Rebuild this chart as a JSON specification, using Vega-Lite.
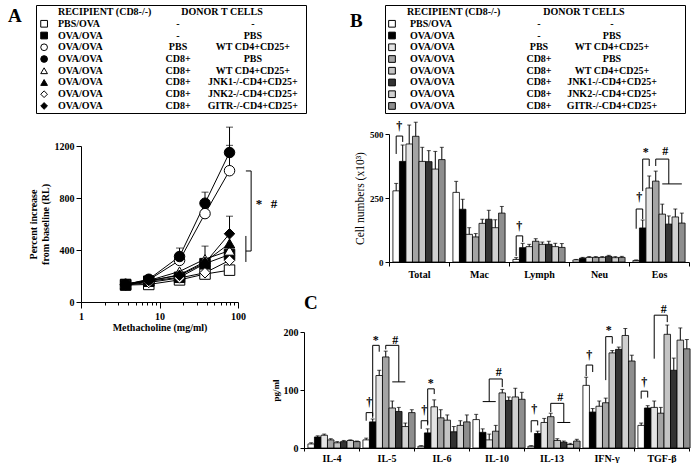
{
"$schema": "https://vega.github.io/schema/vega-lite/v6.json",
"background": "white",
"padding": {"left": 7, "top": 4, "right": 0, "bottom": 0},
"autosize": {"type": "pad"},
"config": {
 "view": {"stroke": null},
 "axis": {"labelFont": "Liberation Serif", "labelFontSize": 10, "labelFontWeight": "bold", "labelColor": "black", "titleFont": "Liberation Serif", "titleFontSize": 10, "titleFontWeight": "bold", "titleColor": "black", "domainColor": "black", "domainWidth": 1, "tickColor": "black", "tickWidth": 1, "grid": false, "labelFlush": false, "labelOverlap": false},
 "title": {"font": "Liberation Serif", "fontSize": 19, "fontWeight": "bold", "color": "black", "anchor": "start", "frame": "group", "offset": 0},
 "text": {"font": "Liberation Serif", "fontWeight": "bold", "color": "black"}
},
"datasets": {
 "groups": [
  {"g": "G1", "rec": "PBS/OVA", "cd8": "-", "donor": "-"},
  {"g": "G2", "rec": "OVA/OVA", "cd8": "-", "donor": "PBS"},
  {"g": "G3", "rec": "OVA/OVA", "cd8": "PBS", "donor": "WT CD4+CD25+"},
  {"g": "G4", "rec": "OVA/OVA", "cd8": "CD8+", "donor": "PBS"},
  {"g": "G5", "rec": "OVA/OVA", "cd8": "CD8+", "donor": "WT CD4+CD25+"},
  {"g": "G6", "rec": "OVA/OVA", "cd8": "CD8+", "donor": "JNK1-/-CD4+CD25+"},
  {"g": "G7", "rec": "OVA/OVA", "cd8": "CD8+", "donor": "JNK2-/-CD4+CD25+"},
  {"g": "G8", "rec": "OVA/OVA", "cd8": "CD8+", "donor": "GITR-/-CD4+CD25+"}
 ],
 "hdr": [{"rec": "RECIPIENT (CD8-/-)", "donor": "DONOR T CELLS"}],
 "ahr": [
  {"g": "G1", "dose": 3.7, "v": 130}, {"g": "G1", "dose": 7.3, "v": 135}, {"g": "G1", "dose": 18, "v": 170}, {"g": "G1", "dose": 38, "v": 215}, {"g": "G1", "dose": 78, "v": 245},
  {"g": "G2", "dose": 3.7, "v": 135}, {"g": "G2", "dose": 7.3, "v": 160}, {"g": "G2", "dose": 18, "v": 190}, {"g": "G2", "dose": 38, "v": 295}, {"g": "G2", "dose": 78, "v": 365},
  {"g": "G3", "dose": 3.7, "v": 135}, {"g": "G3", "dose": 7.3, "v": 170}, {"g": "G3", "dose": 18, "v": 320}, {"g": "G3", "dose": 38, "v": 680}, {"g": "G3", "dose": 78, "v": 1010, "e": 1205},
  {"g": "G5", "dose": 3.7, "v": 140}, {"g": "G5", "dose": 7.3, "v": 165}, {"g": "G5", "dose": 18, "v": 235}, {"g": "G5", "dose": 38, "v": 330, "e": 430}, {"g": "G5", "dose": 78, "v": 395},
  {"g": "G6", "dose": 3.7, "v": 130}, {"g": "G6", "dose": 7.3, "v": 160}, {"g": "G6", "dose": 18, "v": 210}, {"g": "G6", "dose": 38, "v": 310}, {"g": "G6", "dose": 78, "v": 450},
  {"g": "G7", "dose": 3.7, "v": 130}, {"g": "G7", "dose": 7.3, "v": 150}, {"g": "G7", "dose": 18, "v": 185}, {"g": "G7", "dose": 38, "v": 225}, {"g": "G7", "dose": 78, "v": 320},
  {"g": "G8", "dose": 3.7, "v": 135}, {"g": "G8", "dose": 7.3, "v": 165}, {"g": "G8", "dose": 18, "v": 205}, {"g": "G8", "dose": 38, "v": 300}, {"g": "G8", "dose": 78, "v": 525, "e": 660},
  {"g": "G4", "dose": 3.7, "v": 135}, {"g": "G4", "dose": 7.3, "v": 175}, {"g": "G4", "dose": 18, "v": 350, "e": 415}, {"g": "G4", "dose": 38, "v": 760, "e": 845}, {"g": "G4", "dose": 78, "v": 1150, "e": 1345}
 ],
 "abr": [
  {"id": "b1", "o": 1, "dose": 126, "y": 1008}, {"id": "b1", "o": 2, "dose": 147, "y": 1008}, {"id": "b1", "o": 3, "dose": 147, "y": 392}, {"id": "b1", "o": 4, "dose": 126, "y": 392},
  {"id": "b2", "o": 1, "dose": 126, "y": 508}, {"id": "b2", "o": 2, "dose": 126, "y": 308}
 ],
 "atx": [{"dose": 185, "y": 754, "s": "*"}, {"dose": 287, "y": 754, "s": "#"}],
 "cells": [
  {"cat": "Total", "g": "G1", "v": 278, "e": 307}, {"cat": "Total", "g": "G2", "v": 393, "e": 457}, {"cat": "Total", "g": "G3", "v": 461, "e": 535}, {"cat": "Total", "g": "G4", "v": 491, "e": 546}, {"cat": "Total", "g": "G5", "v": 393, "e": 448}, {"cat": "Total", "g": "G6", "v": 392, "e": 435}, {"cat": "Total", "g": "G7", "v": 363, "e": 432}, {"cat": "Total", "g": "G8", "v": 400, "e": 448},
  {"cat": "Mac", "g": "G1", "v": 272, "e": 315}, {"cat": "Mac", "g": "G2", "v": 206, "e": 245}, {"cat": "Mac", "g": "G3", "v": 108, "e": 134}, {"cat": "Mac", "g": "G4", "v": 98, "e": 111}, {"cat": "Mac", "g": "G5", "v": 151, "e": 167}, {"cat": "Mac", "g": "G6", "v": 167, "e": 202}, {"cat": "Mac", "g": "G7", "v": 134, "e": 165}, {"cat": "Mac", "g": "G8", "v": 191, "e": 217},
  {"cat": "Lymph", "g": "G1", "v": 10, "e": 17}, {"cat": "Lymph", "g": "G2", "v": 56, "e": 73}, {"cat": "Lymph", "g": "G3", "v": 60, "e": 69}, {"cat": "Lymph", "g": "G4", "v": 81, "e": 91}, {"cat": "Lymph", "g": "G5", "v": 69, "e": 78}, {"cat": "Lymph", "g": "G6", "v": 69, "e": 81}, {"cat": "Lymph", "g": "G7", "v": 60, "e": 73}, {"cat": "Lymph", "g": "G8", "v": 57, "e": 72},
  {"cat": "Neu", "g": "G1", "v": 8, "e": 10}, {"cat": "Neu", "g": "G2", "v": 15, "e": 18}, {"cat": "Neu", "g": "G3", "v": 18, "e": 21}, {"cat": "Neu", "g": "G4", "v": 18, "e": 21}, {"cat": "Neu", "g": "G5", "v": 18, "e": 21}, {"cat": "Neu", "g": "G6", "v": 22, "e": 26}, {"cat": "Neu", "g": "G7", "v": 17, "e": 21}, {"cat": "Neu", "g": "G8", "v": 18, "e": 22},
  {"cat": "Eos", "g": "G1", "v": 6, "e": 8}, {"cat": "Eos", "g": "G2", "v": 133, "e": 164}, {"cat": "Eos", "g": "G3", "v": 289, "e": 336}, {"cat": "Eos", "g": "G4", "v": 316, "e": 355}, {"cat": "Eos", "g": "G5", "v": 187, "e": 226}, {"cat": "Eos", "g": "G6", "v": 148, "e": 180}, {"cat": "Eos", "g": "G7", "v": 176, "e": 207}, {"cat": "Eos", "g": "G8", "v": 152, "e": 191}
 ],
 "bbr": [
  {"id": "b1", "o": 1, "cat": "Total", "g": "G1", "y": 422}, {"id": "b1", "o": 2, "cat": "Total", "g": "G1", "y": 492}, {"id": "b1", "o": 3, "cat": "Total", "g": "G2", "y": 492}, {"id": "b1", "o": 4, "cat": "Total", "g": "G2", "y": 469},
  {"id": "b2", "o": 1, "cat": "Lymph", "g": "G1", "y": 23}, {"id": "b2", "o": 2, "cat": "Lymph", "g": "G1", "y": 102}, {"id": "b2", "o": 3, "cat": "Lymph", "g": "G2", "y": 102}, {"id": "b2", "o": 4, "cat": "Lymph", "g": "G2", "y": 78},
  {"id": "b3", "o": 1, "cat": "Eos", "g": "G1", "y": 130}, {"id": "b3", "o": 2, "cat": "Eos", "g": "G1", "y": 207}, {"id": "b3", "o": 3, "cat": "Eos", "g": "G2", "y": 207}, {"id": "b3", "o": 4, "cat": "Eos", "g": "G2", "y": 168},
  {"id": "b4", "o": 1, "cat": "Eos", "g": "G2", "y": 277}, {"id": "b4", "o": 2, "cat": "Eos", "g": "G2", "y": 402}, {"id": "b4", "o": 3, "cat": "Eos", "g": "G3", "y": 402}, {"id": "b4", "o": 4, "cat": "Eos", "g": "G3", "y": 375},
  {"id": "b5", "o": 1, "cat": "Eos", "g": "G4", "y": 375}, {"id": "b5", "o": 2, "cat": "Eos", "g": "G4", "y": 402}, {"id": "b5", "o": 3, "cat": "Eos", "g": "G6", "y": 402}, {"id": "b5", "o": 4, "cat": "Eos", "g": "G6", "y": 305},
  {"id": "b6", "o": 1, "cat": "Eos", "g": "G5", "y": 305}, {"id": "b6", "o": 2, "cat": "Eos", "g": "G8", "y": 305}
 ],
 "btx": [
  {"cat": "Total", "g": "G1", "y": 531, "s": "†"}, {"cat": "Lymph", "g": "G1", "y": 141, "s": "†"}, {"cat": "Eos", "g": "G1", "y": 254, "s": "†"}, {"cat": "Eos", "g": "G2", "y": 430, "s": "*"}, {"cat": "Eos", "g": "G5", "y": 432, "s": "#"}
 ],
 "cyto": [
  {"cat": "IL-4", "g": "G1", "v": 7, "e": 9}, {"cat": "IL-4", "g": "G2", "v": 19, "e": 21}, {"cat": "IL-4", "g": "G3", "v": 22, "e": 24}, {"cat": "IL-4", "g": "G4", "v": 14, "e": 16}, {"cat": "IL-4", "g": "G5", "v": 9, "e": 11}, {"cat": "IL-4", "g": "G6", "v": 11, "e": 13}, {"cat": "IL-4", "g": "G7", "v": 13, "e": 14}, {"cat": "IL-4", "g": "G8", "v": 11, "e": 12},
  {"cat": "IL-5", "g": "G1", "v": 14, "e": 17}, {"cat": "IL-5", "g": "G2", "v": 45, "e": 50}, {"cat": "IL-5", "g": "G3", "v": 125, "e": 134}, {"cat": "IL-5", "g": "G4", "v": 157, "e": 167}, {"cat": "IL-5", "g": "G5", "v": 69, "e": 81}, {"cat": "IL-5", "g": "G6", "v": 63, "e": 70}, {"cat": "IL-5", "g": "G7", "v": 37, "e": 43}, {"cat": "IL-5", "g": "G8", "v": 61, "e": 66},
  {"cat": "IL-6", "g": "G1", "v": 3, "e": 4}, {"cat": "IL-6", "g": "G2", "v": 26, "e": 33}, {"cat": "IL-6", "g": "G3", "v": 71, "e": 83}, {"cat": "IL-6", "g": "G4", "v": 52, "e": 66}, {"cat": "IL-6", "g": "G5", "v": 48, "e": 57}, {"cat": "IL-6", "g": "G6", "v": 28, "e": 37}, {"cat": "IL-6", "g": "G7", "v": 39, "e": 47}, {"cat": "IL-6", "g": "G8", "v": 45, "e": 57},
  {"cat": "IL-10", "g": "G1", "v": 49, "e": 58}, {"cat": "IL-10", "g": "G2", "v": 27, "e": 33}, {"cat": "IL-10", "g": "G3", "v": 14, "e": 24}, {"cat": "IL-10", "g": "G4", "v": 29, "e": 39}, {"cat": "IL-10", "g": "G5", "v": 95, "e": 101}, {"cat": "IL-10", "g": "G6", "v": 82, "e": 88}, {"cat": "IL-10", "g": "G7", "v": 88, "e": 103}, {"cat": "IL-10", "g": "G8", "v": 84, "e": 96},
  {"cat": "IL-13", "g": "G1", "v": 3, "e": 4}, {"cat": "IL-13", "g": "G2", "v": 25, "e": 29}, {"cat": "IL-13", "g": "G3", "v": 44, "e": 51}, {"cat": "IL-13", "g": "G4", "v": 54, "e": 60}, {"cat": "IL-13", "g": "G5", "v": 13, "e": 16}, {"cat": "IL-13", "g": "G6", "v": 10, "e": 12}, {"cat": "IL-13", "g": "G7", "v": 6, "e": 8}, {"cat": "IL-13", "g": "G8", "v": 12, "e": 15},
  {"cat": "IFN-γ", "g": "G1", "v": 108, "e": 122}, {"cat": "IFN-γ", "g": "G2", "v": 62, "e": 68}, {"cat": "IFN-γ", "g": "G3", "v": 72, "e": 81}, {"cat": "IFN-γ", "g": "G4", "v": 78, "e": 86}, {"cat": "IFN-γ", "g": "G5", "v": 164, "e": 168}, {"cat": "IFN-γ", "g": "G6", "v": 170, "e": 174}, {"cat": "IFN-γ", "g": "G7", "v": 194, "e": 206}, {"cat": "IFN-γ", "g": "G8", "v": 150, "e": 160},
  {"cat": "TGF-β", "g": "G1", "v": 39, "e": 43}, {"cat": "TGF-β", "g": "G2", "v": 69, "e": 73}, {"cat": "TGF-β", "g": "G3", "v": 70, "e": 81}, {"cat": "TGF-β", "g": "G4", "v": 60, "e": 70}, {"cat": "TGF-β", "g": "G5", "v": 196, "e": 212}, {"cat": "TGF-β", "g": "G6", "v": 134, "e": 155}, {"cat": "TGF-β", "g": "G7", "v": 186, "e": 207}, {"cat": "TGF-β", "g": "G8", "v": 171, "e": 187}
 ],
 "cbr": [
  {"id": "c1", "o": 1, "cat": "IL-5", "g": "G1", "y": 47}, {"id": "c1", "o": 2, "cat": "IL-5", "g": "G1", "y": 61}, {"id": "c1", "o": 3, "cat": "IL-5", "g": "G2", "y": 61}, {"id": "c1", "o": 4, "cat": "IL-5", "g": "G2", "y": 52},
  {"id": "c2", "o": 1, "cat": "IL-5", "g": "G2", "y": 55}, {"id": "c2", "o": 2, "cat": "IL-5", "g": "G2", "y": 177}, {"id": "c2", "o": 3, "cat": "IL-5", "g": "G3", "y": 177}, {"id": "c2", "o": 4, "cat": "IL-5", "g": "G3", "y": 166},
  {"id": "c3", "o": 1, "cat": "IL-5", "g": "G4", "y": 170}, {"id": "c3", "o": 2, "cat": "IL-5", "g": "G4", "y": 177}, {"id": "c3", "o": 3, "cat": "IL-5", "g": "G6", "y": 177}, {"id": "c3", "o": 4, "cat": "IL-5", "g": "G6", "y": 114},
  {"id": "c4", "o": 1, "cat": "IL-5", "g": "G5", "y": 114}, {"id": "c4", "o": 2, "cat": "IL-5", "g": "G7", "y": 114},
  {"id": "c5", "o": 1, "cat": "IL-6", "g": "G1", "y": 33}, {"id": "c5", "o": 2, "cat": "IL-6", "g": "G1", "y": 47}, {"id": "c5", "o": 3, "cat": "IL-6", "g": "G2", "y": 47}, {"id": "c5", "o": 4, "cat": "IL-6", "g": "G2", "y": 39},
  {"id": "c6", "o": 1, "cat": "IL-6", "g": "G2", "y": 42}, {"id": "c6", "o": 2, "cat": "IL-6", "g": "G2", "y": 102}, {"id": "c6", "o": 3, "cat": "IL-6", "g": "G3", "y": 102}, {"id": "c6", "o": 4, "cat": "IL-6", "g": "G3", "y": 93},
  {"id": "c7", "o": 1, "cat": "IL-10", "g": "G2", "y": 80}, {"id": "c7", "o": 2, "cat": "IL-10", "g": "G4", "y": 80},
  {"id": "c8", "o": 1, "cat": "IL-10", "g": "G3", "y": 80}, {"id": "c8", "o": 2, "cat": "IL-10", "g": "G3", "y": 119}, {"id": "c8", "o": 3, "cat": "IL-10", "g": "G5", "y": 119}, {"id": "c8", "o": 4, "cat": "IL-10", "g": "G5", "y": 105},
  {"id": "c9", "o": 1, "cat": "IL-13", "g": "G1", "y": 27}, {"id": "c9", "o": 2, "cat": "IL-13", "g": "G1", "y": 47}, {"id": "c9", "o": 3, "cat": "IL-13", "g": "G2", "y": 47}, {"id": "c9", "o": 4, "cat": "IL-13", "g": "G2", "y": 39},
  {"id": "c10", "o": 1, "cat": "IL-13", "g": "G4", "y": 62}, {"id": "c10", "o": 2, "cat": "IL-13", "g": "G4", "y": 77}, {"id": "c10", "o": 3, "cat": "IL-13", "g": "G6", "y": 77}, {"id": "c10", "o": 4, "cat": "IL-13", "g": "G6", "y": 44},
  {"id": "c11", "o": 1, "cat": "IL-13", "g": "G5", "y": 44}, {"id": "c11", "o": 2, "cat": "IL-13", "g": "G7", "y": 44},
  {"id": "c12", "o": 1, "cat": "IFN-γ", "g": "G1", "y": 124}, {"id": "c12", "o": 2, "cat": "IFN-γ", "g": "G1", "y": 143}, {"id": "c12", "o": 3, "cat": "IFN-γ", "g": "G2", "y": 143}, {"id": "c12", "o": 4, "cat": "IFN-γ", "g": "G2", "y": 131},
  {"id": "c13", "o": 1, "cat": "IFN-γ", "g": "G4", "y": 117}, {"id": "c13", "o": 2, "cat": "IFN-γ", "g": "G4", "y": 192}, {"id": "c13", "o": 3, "cat": "IFN-γ", "g": "G5", "y": 192}, {"id": "c13", "o": 4, "cat": "IFN-γ", "g": "G5", "y": 180},
  {"id": "c14", "o": 1, "cat": "TGF-β", "g": "G1", "y": 85}, {"id": "c14", "o": 2, "cat": "TGF-β", "g": "G1", "y": 98}, {"id": "c14", "o": 3, "cat": "TGF-β", "g": "G2", "y": 98}, {"id": "c14", "o": 4, "cat": "TGF-β", "g": "G2", "y": 87},
  {"id": "c15", "o": 1, "cat": "TGF-β", "g": "G3", "y": 154}, {"id": "c15", "o": 2, "cat": "TGF-β", "g": "G3", "y": 229}, {"id": "c15", "o": 3, "cat": "TGF-β", "g": "G5", "y": 229}, {"id": "c15", "o": 4, "cat": "TGF-β", "g": "G5", "y": 217}
 ],
 "ctx": [
  {"cat": "IL-5", "g": "G1", "y": 79, "s": "†"}, {"cat": "IL-5", "g": "G2", "y": 187, "s": "*"}, {"cat": "IL-5", "g": "G5", "y": 187, "s": "#"},
  {"cat": "IL-6", "g": "G1", "y": 65, "s": "†"}, {"cat": "IL-6", "g": "G2", "y": 112, "s": "*"},
  {"cat": "IL-10", "g": "G4", "y": 131, "s": "#"},
  {"cat": "IL-13", "g": "G1", "y": 67, "s": "†"}, {"cat": "IL-13", "g": "G5", "y": 88, "s": "#"},
  {"cat": "IFN-γ", "g": "G1", "y": 160, "s": "†"}, {"cat": "IFN-γ", "g": "G4", "y": 203, "s": "*"},
  {"cat": "TGF-β", "g": "G1", "y": 114, "s": "†"}, {"cat": "TGF-β", "g": "G4", "y": 239, "s": "#"}
 ]
},
"spacing": -39,
"vconcat": [
 {"spacing": 42, "hconcat": [
  {"spacing": 12, "vconcat": [
   {
    "width": 270, "height": 108,
    "view": {"stroke": "black", "strokeWidth": 1},
    "title": {"text": "A", "baseline": "top", "dx": -28, "dy": 25},
    "layer": [
     {"data": {"name": "hdr"}, "mark": {"type": "text", "align": "left", "baseline": "middle", "fontSize": 10, "color": "black"},
      "encoding": {"x": {"datum": "rec", "type": "nominal", "bandPosition": 0.244, "scale": {"type": "band", "domain": ["rec", "cd8", "donor"], "paddingInner": 0, "paddingOuter": 0}, "axis": null},
       "y": {"datum": "hdr", "type": "nominal", "scale": {"type": "point", "domain": ["hdr", "G1", "G2", "G3", "G4", "G5", "G6", "G7", "G8"], "padding": 0.6}, "axis": null},
       "text": {"field": "rec"}}},
     {"data": {"name": "hdr"}, "mark": {"type": "text", "align": "center", "baseline": "middle", "fontSize": 10, "color": "black"},
      "encoding": {"x": {"datum": "donor", "type": "nominal", "bandPosition": 0.067, "axis": null},
       "y": {"datum": "hdr", "type": "nominal", "axis": null},
       "text": {"field": "donor"}}},
     {"data": {"name": "groups"}, "mark": {"type": "point", "filled": true, "stroke": "black", "strokeWidth": 1, "size": 45, "opacity": 1},
      "encoding": {"x": {"datum": "rec", "type": "nominal", "bandPosition": 0.09, "axis": null},
       "y": {"field": "g", "type": "nominal", "axis": null},
       "shape": {"field": "g", "type": "nominal", "scale": {"domain": ["G1", "G2", "G3", "G4", "G5", "G6", "G7", "G8"], "range": ["square", "square", "circle", "circle", "triangle-up", "triangle-up", "diamond", "diamond"]}, "legend": null},
       "fill": {"field": "g", "type": "nominal", "scale": {"domain": ["G1", "G2", "G3", "G4", "G5", "G6", "G7", "G8"], "range": ["white", "black", "white", "black", "white", "black", "white", "black"]}, "legend": null}}},
     {"data": {"name": "groups"}, "mark": {"type": "text", "align": "left", "baseline": "middle", "fontSize": 10, "color": "black"},
      "encoding": {"x": {"datum": "rec", "type": "nominal", "bandPosition": 0.244, "axis": null},
       "y": {"field": "g", "type": "nominal", "axis": null}, "text": {"field": "rec"}}},
     {"data": {"name": "groups"}, "mark": {"type": "text", "align": "center", "baseline": "middle", "fontSize": 10, "color": "black"},
      "encoding": {"x": {"datum": "cd8", "type": "nominal", "bandPosition": 0.578, "axis": null},
       "y": {"field": "g", "type": "nominal", "axis": null}, "text": {"field": "cd8"}}},
     {"data": {"name": "groups"}, "mark": {"type": "text", "align": "center", "baseline": "middle", "fontSize": 10, "color": "black"},
      "encoding": {"x": {"datum": "donor", "type": "nominal", "bandPosition": 0.41, "axis": null},
       "y": {"field": "g", "type": "nominal", "axis": null}, "text": {"field": "donor"}}}
    ]
   },
   {
    "width": 203, "height": 156,
    "encoding": {
     "x": {"field": "dose", "type": "quantitative", "scale": {"type": "log", "domain": [1, 100], "range": [45, 202], "nice": false},
      "axis": {"values": [1, 2, 3, 4, 5, 6, 7, 8, 9, 10, 20, 30, 40, 50, 60, 70, 80, 90, 100], "title": "Methacholine (mg/ml)", "labelExpr": "datum.value == 1 || datum.value == 10 || datum.value == 100 ? datum.label : ''", "tickSize": {"condition": {"test": "datum.value == 1 || datum.value == 10 || datum.value == 100", "value": 6}, "value": 3}, "labelPadding": 3, "titlePadding": 1}},
     "y": {"field": "v", "type": "quantitative", "scale": {"domain": [0, 1200], "nice": false},
      "axis": {"values": [0, 400, 800, 1200], "format": "d", "offset": -45, "title": ["Percent increase", "from baseline (RL)"], "titlePadding": 4, "tickSize": 5, "labelPadding": 2}}
    },
    "layer": [
     {"data": {"name": "ahr"}, "mark": {"type": "line", "color": "black", "strokeWidth": 1}, "encoding": {"detail": {"field": "g"}}},
     {"data": {"name": "ahr"}, "transform": [{"filter": "isValid(datum.e)"}], "mark": {"type": "rule", "color": "black", "strokeWidth": 1}, "encoding": {"y2": {"field": "e"}}},
     {"data": {"name": "ahr"}, "transform": [{"filter": "isValid(datum.e)"}], "mark": {"type": "tick", "orient": "horizontal", "size": 7, "thickness": 1, "color": "black"}, "encoding": {"y": {"field": "e", "type": "quantitative"}}},
     {"data": {"name": "ahr"}, "mark": {"type": "point", "filled": true, "stroke": "black", "strokeWidth": 1, "size": 110, "opacity": 1},
      "encoding": {
       "shape": {"field": "g", "type": "nominal", "scale": {"domain": ["G1", "G2", "G3", "G4", "G5", "G6", "G7", "G8"], "range": ["square", "square", "circle", "circle", "triangle-up", "triangle-up", "diamond", "diamond"]}, "legend": null},
       "fill": {"field": "g", "type": "nominal", "scale": {"domain": ["G1", "G2", "G3", "G4", "G5", "G6", "G7", "G8"], "range": ["white", "black", "white", "black", "white", "black", "white", "black"]}, "legend": null}}},
     {"data": {"name": "abr"}, "mark": {"type": "line", "color": "black", "strokeWidth": 1}, "encoding": {"detail": {"field": "id"}, "order": {"field": "o"}, "y": {"field": "y", "type": "quantitative"}}},
     {"data": {"name": "atx"}, "mark": {"type": "text", "fontSize": 13, "baseline": "middle", "color": "black"}, "encoding": {"y": {"field": "y", "type": "quantitative"}, "text": {"field": "s"}}}
    ]
   }
  ]},
  {"spacing": 6, "vconcat": [
   {
    "width": 300, "height": 108,
    "view": {"stroke": "black", "strokeWidth": 1},
    "title": {"text": "B", "baseline": "top", "dx": -35, "dy": 30},
    "layer": [
     {"data": {"name": "hdr"}, "mark": {"type": "text", "align": "left", "baseline": "middle", "fontSize": 10, "color": "black"},
      "encoding": {"x": {"datum": "rec", "type": "nominal", "bandPosition": 0.22, "scale": {"type": "band", "domain": ["rec", "cd8", "donor"], "paddingInner": 0, "paddingOuter": 0}, "axis": null},
       "y": {"datum": "hdr", "type": "nominal", "scale": {"type": "point", "domain": ["hdr", "G1", "G2", "G3", "G4", "G5", "G6", "G7", "G8"], "padding": 0.6}, "axis": null},
       "text": {"field": "rec"}}},
     {"data": {"name": "hdr"}, "mark": {"type": "text", "align": "center", "baseline": "middle", "fontSize": 10, "color": "black"},
      "encoding": {"x": {"datum": "cd8", "type": "nominal", "bandPosition": 0.99, "axis": null},
       "y": {"datum": "hdr", "type": "nominal", "axis": null},
       "text": {"field": "donor"}}},
     {"data": {"name": "groups"}, "mark": {"type": "point", "shape": "square", "filled": true, "stroke": "black", "strokeWidth": 1, "size": 45, "opacity": 1},
      "encoding": {"x": {"datum": "rec", "type": "nominal", "bandPosition": 0.07, "axis": null},
       "y": {"field": "g", "type": "nominal", "axis": null},
       "color": {"field": "g", "type": "nominal", "scale": {"domain": ["G1", "G2", "G3", "G4", "G5", "G6", "G7", "G8"], "range": ["#ffffff", "#000000", "#e4e4e4", "#a4a4a4", "#c4c4c4", "#333333", "#d0d0d0", "#8e8e8e"]}, "legend": null}}},
     {"data": {"name": "groups"}, "mark": {"type": "text", "align": "left", "baseline": "middle", "fontSize": 10, "color": "black"},
      "encoding": {"x": {"datum": "rec", "type": "nominal", "bandPosition": 0.25, "axis": null},
       "y": {"field": "g", "type": "nominal", "axis": null}, "text": {"field": "rec"}}},
     {"data": {"name": "groups"}, "mark": {"type": "text", "align": "center", "baseline": "middle", "fontSize": 10, "color": "black"},
      "encoding": {"x": {"datum": "cd8", "type": "nominal", "bandPosition": 0.54, "axis": null},
       "y": {"field": "g", "type": "nominal", "axis": null}, "text": {"field": "cd8"}}},
     {"data": {"name": "groups"}, "mark": {"type": "text", "align": "center", "baseline": "middle", "fontSize": 10, "color": "black"},
      "encoding": {"x": {"datum": "donor", "type": "nominal", "bandPosition": 0.27, "axis": null},
       "y": {"field": "g", "type": "nominal", "axis": null}, "text": {"field": "donor"}}}
    ]
   },
   {
    "width": 304, "height": 128,
    "encoding": {
     "x": {"field": "cat", "type": "nominal", "scale": {"domain": ["Total", "Mac", "Lymph", "Neu", "Eos"], "range": [4, 304], "paddingInner": 0, "paddingOuter": 0},
      "axis": {"title": null, "labelAngle": 0, "tickBand": "extent", "tickSize": 4, "labelPadding": 3}},
     "xOffset": {"field": "g", "type": "nominal", "scale": {"domain": ["G1", "G2", "G3", "G4", "G5", "G6", "G7", "G8"], "paddingInner": 0, "paddingOuter": 0.6}}
    },
    "layer": [
     {"data": {"name": "cells"}, "mark": {"type": "bar", "stroke": "black", "strokeWidth": 0.8},
      "encoding": {"y": {"field": "v", "type": "quantitative", "scale": {"domain": [0, 500], "nice": false}, "axis": {"values": [0, 250, 500], "offset": -4, "title": "Cell numbers (x10³)", "titleFontSize": 11.5, "titleFontWeight": "normal", "tickSize": 4, "labelPadding": 2, "labelFontSize": 9, "titlePadding": 4}},
       "color": {"field": "g", "type": "nominal", "scale": {"domain": ["G1", "G2", "G3", "G4", "G5", "G6", "G7", "G8"], "range": ["#ffffff", "#000000", "#e4e4e4", "#a4a4a4", "#c4c4c4", "#333333", "#d0d0d0", "#8e8e8e"]}, "legend": null}}},
     {"data": {"name": "cells"}, "mark": {"type": "rule", "color": "black", "strokeWidth": 1}, "encoding": {"y": {"field": "v", "type": "quantitative"}, "y2": {"field": "e"}}},
     {"data": {"name": "cells"}, "mark": {"type": "tick", "orient": "horizontal", "size": 4, "thickness": 1, "color": "black"}, "encoding": {"y": {"field": "e", "type": "quantitative"}}},
     {"data": {"name": "bbr"}, "mark": {"type": "line", "color": "black", "strokeWidth": 1}, "encoding": {"y": {"field": "y", "type": "quantitative"}, "detail": {"field": "id"}, "order": {"field": "o"}}},
     {"data": {"name": "btx"}, "mark": {"type": "text", "fontSize": 12, "baseline": "middle", "dx": 3, "color": "black"}, "encoding": {"y": {"field": "y", "type": "quantitative"}, "text": {"field": "s"}}}
    ]
   }
  ]}
 ]},
 {
  "width": 653, "height": 116,
  "title": {"text": "C", "baseline": "bottom", "dx": 268, "dy": 33},
  "encoding": {
   "x": {"field": "cat", "type": "nominal", "scale": {"domain": ["IL-4", "IL-5", "IL-6", "IL-10", "IL-13", "IFN-γ", "TGF-β"], "range": [268, 653], "paddingInner": 0, "paddingOuter": 0},
    "axis": {"title": null, "labelAngle": 0, "tickBand": "extent", "tickSize": 3, "labelPadding": 2}},
   "xOffset": {"field": "g", "type": "nominal", "scale": {"domain": ["G1", "G2", "G3", "G4", "G5", "G6", "G7", "G8"], "paddingInner": 0, "paddingOuter": 0.4}}
  },
  "layer": [
   {"data": {"name": "cyto"}, "mark": {"type": "bar", "stroke": "black", "strokeWidth": 0.8},
    "encoding": {"y": {"field": "v", "type": "quantitative", "scale": {"domain": [0, 200], "nice": false}, "axis": {"values": [0, 100, 200], "offset": -268, "title": "pg/ml", "titleFontSize": 9, "tickSize": 4, "labelPadding": 2, "titlePadding": 3}},
     "color": {"field": "g", "type": "nominal", "scale": {"domain": ["G1", "G2", "G3", "G4", "G5", "G6", "G7", "G8"], "range": ["#ffffff", "#000000", "#e4e4e4", "#a4a4a4", "#c4c4c4", "#333333", "#d0d0d0", "#8e8e8e"]}, "legend": null}}},
   {"data": {"name": "cyto"}, "mark": {"type": "rule", "color": "black", "strokeWidth": 1}, "encoding": {"y": {"field": "v", "type": "quantitative"}, "y2": {"field": "e"}}},
   {"data": {"name": "cyto"}, "mark": {"type": "tick", "orient": "horizontal", "size": 4, "thickness": 1, "color": "black"}, "encoding": {"y": {"field": "e", "type": "quantitative"}}},
   {"data": {"name": "cbr"}, "mark": {"type": "line", "color": "black", "strokeWidth": 1}, "encoding": {"y": {"field": "y", "type": "quantitative"}, "detail": {"field": "id"}, "order": {"field": "o"}}},
   {"data": {"name": "ctx"}, "mark": {"type": "text", "fontSize": 12, "baseline": "middle", "dx": 3, "color": "black"}, "encoding": {"y": {"field": "y", "type": "quantitative"}, "text": {"field": "s"}}}
  ]
 }
]
}
